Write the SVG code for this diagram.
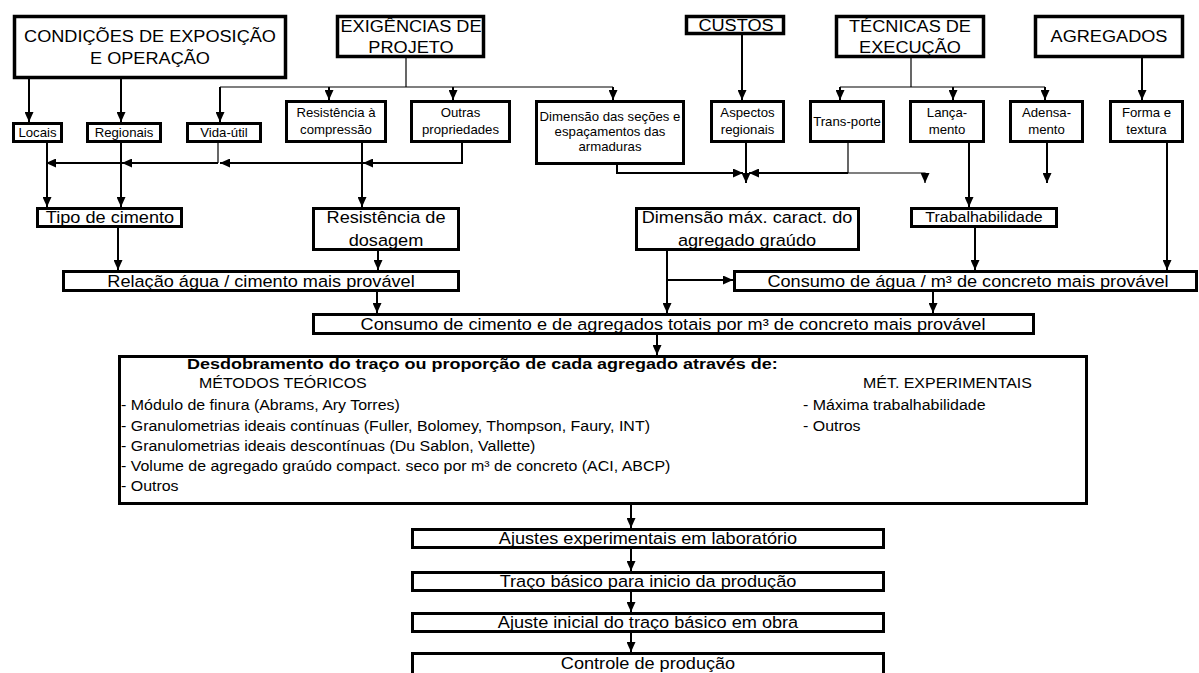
<svg xmlns="http://www.w3.org/2000/svg" width="1199" height="673" viewBox="0 0 1199 673">
<defs>
<marker id="ah" markerUnits="userSpaceOnUse" markerWidth="10" markerHeight="9" refX="10" refY="4.5" orient="auto">
<path d="M0,0 L10,4.5 L0,9 z" fill="#000"/>
</marker>
<style>
rect{fill:#fff;stroke:#000;stroke-width:3}
.top rect{stroke-width:3.5}
text{font-family:"Liberation Sans",Arial,sans-serif;fill:#000}
.big{font-size:16.5px;text-anchor:middle}
.sm{font-size:12px;text-anchor:middle}
.md{font-size:14.5px;text-anchor:middle}
.lst{font-size:14.5px}
.bold{font-size:15.5px;font-weight:bold}
.c line,.c polyline{stroke:#000;stroke-width:2;fill:none}
.c .thin{stroke-width:1.2}
.c .a{marker-end:url(#ah)}
</style>
</defs>
<rect x="0" y="0" width="1199" height="673" style="fill:#fff;stroke:none"/>

<!-- top level -->
<g id="condicoes" class="top"><rect x="14.5" y="16.5" width="271" height="61"/>
<text class="big" transform="translate(150 41.5) scale(1.1 1)">CONDIÇÕES DE EXPOSIÇÃO</text>
<text class="big" transform="translate(150 63.5) scale(1.1 1)">E OPERAÇÃO</text></g>
<g id="exigencias" class="top"><rect x="337.5" y="16.5" width="146" height="40"/>
<text class="big" transform="translate(411 32) scale(1.1 1)">EXIGÊNCIAS DE</text>
<text class="big" transform="translate(411 53) scale(1.1 1)">PROJETO</text></g>
<g id="custos" class="top"><rect x="686.5" y="16.5" width="97" height="17"/>
<text class="big" transform="translate(736 31) scale(1.1 1)">CUSTOS</text></g>
<g id="tecnicas" class="top"><rect x="836.5" y="16.5" width="147" height="40"/>
<text class="big" transform="translate(910 32) scale(1.1 1)">TÉCNICAS DE</text>
<text class="big" transform="translate(910 53) scale(1.1 1)">EXECUÇÃO</text></g>
<g id="agregados" class="top"><rect x="1035.5" y="16.5" width="147" height="40"/>
<text class="big" transform="translate(1109 42) scale(1.1 1)">AGREGADOS</text></g>

<!-- second row -->
<g id="locais"><rect x="13.5" y="123.5" width="48" height="18"/>
<text class="sm" transform="translate(37.5 136.5) scale(1.1 1)">Locais</text></g>
<g id="regionais"><rect x="87.5" y="123.5" width="73" height="18"/>
<text class="sm" transform="translate(124 136.5) scale(1.1 1)">Regionais</text></g>
<g id="vida-util"><rect x="187.5" y="123.5" width="73" height="18"/>
<text class="sm" transform="translate(224 136.5) scale(1.1 1)">Vida-útil</text></g>
<g id="resist-compressao"><rect x="286.5" y="101.5" width="99" height="40"/>
<text class="sm" transform="translate(336 117) scale(1.1 1)">Resistência à</text>
<text class="sm" transform="translate(336 134) scale(1.1 1)">compressão</text></g>
<g id="outras"><rect x="411.5" y="101.5" width="98" height="40"/>
<text class="sm" transform="translate(460.5 117) scale(1.1 1)">Outras</text>
<text class="sm" transform="translate(460.5 134) scale(1.1 1)">propriedades</text></g>
<g id="dimensao-secoes"><rect x="536.5" y="101.5" width="147" height="62"/>
<text class="sm" transform="translate(610 121) scale(1.1 1)">Dimensão das seções e</text>
<text class="sm" transform="translate(610 136) scale(1.1 1)">espaçamentos das</text>
<text class="sm" transform="translate(610 151) scale(1.1 1)">armaduras</text></g>
<g id="aspectos"><rect x="711.5" y="101.5" width="72" height="40"/>
<text class="sm" transform="translate(747.5 117) scale(1.1 1)">Aspectos</text>
<text class="sm" transform="translate(747.5 134) scale(1.1 1)">regionais</text></g>
<g id="transporte"><rect x="810.5" y="101.5" width="73" height="40"/>
<text class="sm" transform="translate(847 126) scale(1.1 1)">Trans-porte</text></g>
<g id="lancamento"><rect x="910.5" y="101.5" width="73" height="40"/>
<text class="sm" transform="translate(947 117) scale(1.1 1)">Lança-</text>
<text class="sm" transform="translate(947 134) scale(1.1 1)">mento</text></g>
<g id="adensamento"><rect x="1010.5" y="101.5" width="72" height="40"/>
<text class="sm" transform="translate(1046.5 117) scale(1.1 1)">Adensa-</text>
<text class="sm" transform="translate(1046.5 134) scale(1.1 1)">mento</text></g>
<g id="forma"><rect x="1110.5" y="101.5" width="72" height="40"/>
<text class="sm" transform="translate(1146.5 117) scale(1.1 1)">Forma e</text>
<text class="sm" transform="translate(1146.5 134) scale(1.1 1)">textura</text></g>

<!-- intermediate results -->
<g id="tipo-cimento"><rect x="37.5" y="208.5" width="144" height="18"/>
<text class="big" transform="translate(110 223) scale(1.1 1)">Tipo de cimento</text></g>
<g id="resist-dosagem"><rect x="313.5" y="208.5" width="145" height="41"/>
<text class="big" transform="translate(386 223) scale(1.1 1)">Resistência de</text>
<text class="big" transform="translate(386 246) scale(1.1 1)">dosagem</text></g>
<g id="dimensao-max"><rect x="636.5" y="208.5" width="222" height="41"/>
<text class="big" transform="translate(747 223) scale(1.1 1)">Dimensão máx. caract. do</text>
<text class="big" transform="translate(747 246) scale(1.1 1)">agregado graúdo</text></g>
<g id="trabalhabilidade"><rect x="911.5" y="208.5" width="145" height="18"/>
<text class="md" transform="translate(984 222) scale(1.1 1)">Trabalhabilidade</text></g>
<g id="relacao"><rect x="63.5" y="271.5" width="395" height="19"/>
<text class="big" transform="translate(261 286.5) scale(1.1 1)">Relação água / cimento mais provável</text></g>
<g id="consumo-agua"><rect x="734.5" y="271.5" width="462" height="19"/>
<text class="big" transform="translate(968 286.5) scale(1.1 1)">Consumo de água / m³ de concreto mais provável</text></g>
<g id="consumo-cimento"><rect x="313.5" y="314.5" width="720" height="19"/>
<text class="big" transform="translate(673 329.5) scale(1.1 1)">Consumo de cimento e de agregados totais por m³ de concreto mais provável</text></g>

<!-- proportioning methods -->
<g id="desdobramento"><rect x="119.5" y="356.5" width="967" height="147"/>
<text class="bold" transform="translate(187 369) scale(1.16 1)">Desdobramento do traço ou proporção de cada agregado através de:</text>
<text class="lst" transform="translate(199 388) scale(1.1 1)">MÉTODOS TEÓRICOS</text>
<text class="lst" transform="translate(863 388) scale(1.1 1)">MÉT. EXPERIMENTAIS</text>
<text class="lst" transform="translate(121 410) scale(1.1 1)">- Módulo de finura (Abrams, Ary Torres)</text>
<text class="lst" transform="translate(121 431) scale(1.1 1)">- Granulometrias ideais contínuas (Fuller, Bolomey, Thompson, Faury, INT)</text>
<text class="lst" transform="translate(121 451) scale(1.1 1)">- Granulometrias ideais descontínuas (Du Sablon, Vallette)</text>
<text class="lst" transform="translate(121 471) scale(1.1 1)">- Volume de agregado graúdo compact. seco por m³ de concreto (ACI, ABCP)</text>
<text class="lst" transform="translate(121 491) scale(1.1 1)">- Outros</text>
<text class="lst" transform="translate(803 410) scale(1.1 1)">- Máxima trabalhabilidade</text>
<text class="lst" transform="translate(803 431) scale(1.1 1)">- Outros</text></g>

<!-- production steps -->
<g id="ajustes-lab"><rect x="412.5" y="529.5" width="471" height="18"/>
<text class="big" transform="translate(648 544) scale(1.1 1)">Ajustes experimentais em laboratório</text></g>
<g id="traco-basico"><rect x="412.5" y="572.5" width="471" height="18"/>
<text class="big" transform="translate(648 587) scale(1.1 1)">Traço básico para inicio da produção</text></g>
<g id="ajuste-obra"><rect x="412.5" y="613.5" width="471" height="18"/>
<text class="big" transform="translate(648 628) scale(1.1 1)">Ajuste inicial do traço básico em obra</text></g>
<g id="controle"><rect x="412.5" y="653.5" width="471" height="30"/>
<text class="big" transform="translate(648 669) scale(1.1 1)">Controle de produção</text></g>

<g id="connectors" class="c">
<!-- from exposure conditions -->
<line class="a" x1="29" y1="79" x2="29" y2="122"/>
<line class="a" x1="121" y1="79" x2="121" y2="122"/>
<!-- from design requirements -->
<line class="thin" x1="406" y1="58" x2="406" y2="87"/>
<line class="thin" x1="220" y1="87" x2="613" y2="87"/>
<line class="a" x1="220" y1="87" x2="220" y2="122"/>
<line class="a" x1="329" y1="87" x2="329" y2="100"/>
<line class="a" x1="453" y1="87" x2="453" y2="100"/>
<line class="a" x1="613" y1="87" x2="613" y2="100"/>
<!-- costs, execution, aggregates -->
<line class="a" x1="742" y1="35" x2="742" y2="100"/>
<line class="thin" x1="911" y1="58" x2="911" y2="87"/>
<line class="thin" x1="840" y1="87" x2="1045" y2="87"/>
<line class="a" x1="840" y1="87" x2="840" y2="100"/>
<line class="a" x1="953" y1="87" x2="953" y2="100"/>
<line class="a" x1="1045" y1="87" x2="1045" y2="100"/>
<line class="a" x1="1142" y1="58" x2="1142" y2="100"/>
<!-- collector towards cement type -->
<line class="thin" x1="218" y1="143" x2="218" y2="163"/>
<polyline class="a" points="462,143 462,163 363,163"/>
<line class="a" x1="362" y1="163" x2="220" y2="163"/>
<line class="a" x1="218" y1="163" x2="122" y2="163"/>
<line class="a" x1="121" y1="163" x2="46" y2="163"/>
<line class="a" x1="47" y1="143" x2="47" y2="207"/>
<line class="a" x1="121" y1="143" x2="121" y2="207"/>
<line class="a" x1="362" y1="143" x2="362" y2="207"/>
<!-- section dimensions, regional aspects, transport -->
<polyline class="a" points="617,165 617,173 743,173"/>
<line class="a" x1="746" y1="143" x2="746" y2="183"/>
<line class="thin" x1="848" y1="143" x2="848" y2="173"/>
<line class="a" x1="848" y1="173" x2="749" y2="173"/>
<polyline class="a thin" points="848,173 925,173 925,183"/>
<line class="a" x1="1047" y1="143" x2="1047" y2="183"/>
<line class="a" x1="969" y1="143" x2="969" y2="207"/>
<line class="a" x1="1167" y1="143" x2="1167" y2="270"/>
<!-- toward water/cement and water content -->
<line class="a" x1="118" y1="228" x2="118" y2="270"/>
<line class="a" x1="378" y1="251" x2="378" y2="270"/>
<line class="a" x1="975" y1="228" x2="975" y2="270"/>
<line class="a" x1="667" y1="251" x2="667" y2="313"/>
<line class="a" x1="667" y1="280" x2="733" y2="280"/>
<line class="a" x1="377" y1="292" x2="377" y2="313"/>
<line class="a" x1="933" y1="292" x2="933" y2="313"/>
<line class="a" x1="657" y1="335" x2="657" y2="355"/>
<!-- production chain -->
<line class="a" x1="631" y1="505" x2="631" y2="528"/>
<line class="a" x1="631" y1="549" x2="631" y2="571"/>
<line class="a" x1="631" y1="592" x2="631" y2="612"/>
<line class="a" x1="631" y1="633" x2="631" y2="652"/>
</g>
</svg>
